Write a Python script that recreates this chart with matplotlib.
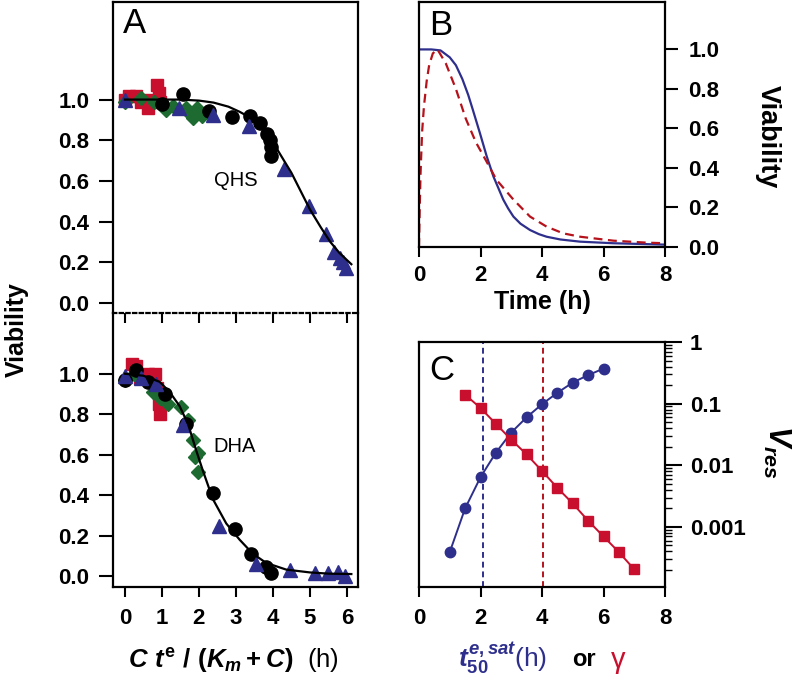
import numpy as np
import matplotlib
matplotlib.use("Agg")
import matplotlib.pyplot as plt
from matplotlib.ticker import LogLocator, NullFormatter

plt.rcParams['font.family'] = ['Liberation Sans', 'DejaVu Sans']
plt.rcParams['mathtext.fontset'] = 'custom'
plt.rcParams['mathtext.rm'] = 'Liberation Sans:bold'
plt.rcParams['mathtext.it'] = 'Liberation Sans:italic:bold'
plt.rcParams['mathtext.bf'] = 'Liberation Sans:bold'

BLUE = '#2e2f8c'
RED = '#c8102e'
GREEN = '#1d6b31'
DRED = '#b5121b'

# ---- panel A, QHS (top) ----
qhs_red_x = [0.0, 0.1, 0.3, 0.45, 0.6, 0.62, 0.88, 0.92, 0.95]
qhs_red_y = [1.0, 1.02, 1.02, 0.99, 1.0, 0.96, 1.07, 1.03, 0.99]
qhs_green_x = [0.0, 0.45, 0.8, 1.1, 1.3, 1.65, 1.75, 1.85, 1.95, 2.0, 2.08]
qhs_green_y = [0.99, 1.01, 0.99, 0.95, 0.97, 0.96, 0.93, 0.91, 0.96, 0.94, 0.92]
qhs_black_x = [1.0, 1.58, 2.27, 2.9, 3.38, 3.66, 3.85, 3.92, 3.96, 3.95]
qhs_black_y = [0.98, 1.025, 0.945, 0.915, 0.92, 0.885, 0.83, 0.80, 0.765, 0.72]
qhs_blue_x = [0.0, 1.47, 2.38, 3.35, 4.3, 4.98, 5.43, 5.65, 5.81, 5.9, 5.97]
qhs_blue_y = [1.0, 0.96, 0.925, 0.87, 0.66, 0.475, 0.34, 0.25, 0.22, 0.2, 0.17]
qhs_fit_x = [0, 0.5, 1.0, 1.5, 2.0, 2.4, 2.8, 3.1, 3.4, 3.6, 3.9, 4.2, 4.5, 4.75,
             5.0, 5.3, 5.55, 5.8, 6.12]
qhs_fit_y = [1.0, 1.0, 1.0, 1.0, 0.995, 0.985, 0.965, 0.94, 0.91, 0.885, 0.82,
             0.73, 0.64, 0.55, 0.46, 0.37, 0.30, 0.245, 0.19]

# ---- panel A, DHA (bottom) ----
dha_red_x = [0.18, 0.3, 0.4, 0.63, 0.82, 0.88, 0.93, 0.95]
dha_red_y = [1.05, 1.04, 0.98, 1.0, 1.0, 0.93, 0.85, 0.80]
dha_green_x = [0.0, 0.25, 0.76, 0.94, 1.17, 1.53, 1.71, 1.84, 1.89, 1.98, 1.98]
dha_green_y = [0.97, 1.0, 0.91, 0.88, 0.85, 0.835, 0.77, 0.67, 0.59, 0.61, 0.515]
dha_black_x = [0.0, 0.3, 0.63, 1.08, 1.66, 2.38, 2.99, 3.42, 3.82, 3.96]
dha_black_y = [0.97, 1.02, 0.96, 0.9, 0.75, 0.41, 0.235, 0.11, 0.046, 0.013]
dha_blue_x = [0.0, 0.45, 0.85, 1.57, 2.54, 3.55, 4.45, 5.13, 5.49, 5.76, 5.94]
dha_blue_y = [0.99, 0.98, 0.95, 0.745, 0.245, 0.06, 0.03, 0.015, 0.016, 0.02, 0.0]
dha_fit_x = [0, 0.5, 0.94, 1.21, 1.48, 1.71, 1.93, 2.11, 2.38, 2.74, 3.1, 3.46,
             3.82, 4.36, 5.0, 5.5, 6.12]
dha_fit_y = [1.0, 0.99, 0.96, 0.91, 0.84, 0.75, 0.62, 0.52, 0.38, 0.26, 0.18,
             0.11, 0.065, 0.032, 0.018, 0.012, 0.01]

# ---- panel B ----
b_blue_t = [0, 0.4, 0.7, 1.0, 1.2, 1.41, 1.6, 1.74, 1.98, 2.2, 2.42, 2.74, 2.9,
            3.07, 3.3, 3.61, 3.9, 4.15, 4.6, 5.24, 6.32, 8.0]
b_blue_v = [1.0, 1.0, 0.995, 0.96, 0.92, 0.85, 0.77, 0.70, 0.577, 0.46, 0.357,
            0.24, 0.195, 0.154, 0.118, 0.086, 0.065, 0.052, 0.038, 0.027, 0.019,
            0.012]
b_red_t = [0, 0.02, 0.05, 0.1, 0.16, 0.25, 0.33, 0.45, 0.6, 0.87, 1.2, 1.52,
           1.85, 2.17, 2.52, 3.07, 3.61, 4.15, 4.69, 5.24, 6.32, 7.4, 8.0]
b_red_v = [0, 0.17, 0.37, 0.58, 0.71, 0.84, 0.92, 0.98, 1.0, 0.93, 0.80, 0.65,
           0.53, 0.44, 0.34, 0.24, 0.154, 0.103, 0.069, 0.052, 0.032, 0.022, 0.019]

# ---- panel C ----
c_t50 = [1.0, 1.5, 2.0, 2.5, 3.0, 3.5, 4.0, 4.5, 5.0, 5.5, 6.0]
c_vres_t50 = [3.9e-4, 2.0e-3, 6.4e-3, 0.016, 0.034, 0.06, 0.098, 0.15, 0.22, 0.29, 0.37]
c_gamma = [1.5, 2.0, 2.5, 3.0, 3.5, 4.0, 4.5, 5.0, 5.5, 6.0, 6.5, 7.0]
c_vres_gamma = [0.14, 0.085, 0.047, 0.026, 0.015, 0.0081, 0.0043, 0.0024,
                0.00126, 0.0007, 0.00039, 0.000205]
c_vlines = [2.07, 4.03]

TICK_FS = 16

fig = plt.figure(figsize=(7.93, 6.86), dpi=100)
W, H = 793.0, 686.0


def box(l, t, r, b):
    return [l / W, (H - b) / H, (r - l) / W, (b - t) / H]


axA1 = fig.add_axes(box(113, 2, 358, 313))
axA2 = fig.add_axes(box(113, 313, 358, 587))
axB = fig.add_axes(box(419, 2, 665, 247))
axC = fig.add_axes(box(419, 342, 665, 587))

for ax in (axA1, axA2, axB, axC):
    for s in ax.spines.values():
        s.set_linewidth(1.6)


def scatter_set(ax, data):
    for x, y, m, c, s in data:
        ax.plot(x, y, ls='none', marker=m, color=c, mec=c, ms=s, zorder=3)


scatter_set(axA1, [
    (qhs_red_x, qhs_red_y, 's', RED, 8.5),
    (qhs_green_x, qhs_green_y, 'D', GREEN, 7.5),
    (qhs_black_x, qhs_black_y, 'o', 'black', 9.5),
    (qhs_blue_x, qhs_blue_y, '^', BLUE, 9.5),
])
axA1.plot(qhs_fit_x, qhs_fit_y, color='black', lw=1.6, zorder=4)

scatter_set(axA2, [
    (dha_red_x, dha_red_y, 's', RED, 8.5),
    (dha_green_x, dha_green_y, 'D', GREEN, 7.5),
    (dha_black_x, dha_black_y, 'o', 'black', 9.5),
    (dha_blue_x, dha_blue_y, '^', BLUE, 9.5),
])
axA2.plot(dha_fit_x, dha_fit_y, color='black', lw=1.6, zorder=4)

yt = [0.0, 0.2, 0.4, 0.6, 0.8, 1.0]
for ax, lo, hi in ((axA1, -0.05, 1.48), (axA2, -0.054, 1.30)):
    ax.set_xlim(-0.32, 6.3)
    ax.set_ylim(lo, hi)
    ax.set_yticks(yt)
    ax.set_yticklabels(['%.1f' % v for v in yt], fontsize=TICK_FS,
                       fontweight='bold')
    ax.tick_params(axis='y', direction='out', length=10, width=1.5, pad=7)
    ax.set_xticks(range(7))

axA1.spines['bottom'].set_visible(False)
axA1.tick_params(axis='x', bottom=False, labelbottom=False)
axA2.spines['top'].set_linestyle((0, (1.5, 1.5)))
axA2.set_xticklabels([str(i) for i in range(7)], fontsize=TICK_FS,
                     fontweight='bold')
axA2.tick_params(axis='x', direction='out', length=7, width=1.5, pad=8)
sec = axA2.secondary_xaxis('top')
sec.set_xticks(range(7))
sec.tick_params(direction='in', length=7, width=1.5, labeltop=False)
sec.spines['top'].set_visible(False)

axA1.text(3.0, 0.6, 'QHS', fontsize=14.5, ha='center', va='center')
axA2.text(2.97, 0.64, 'DHA', fontsize=14.5, ha='center', va='center')
axA1.text(0.04, 0.985, 'A', transform=axA1.transAxes, fontsize=25,
          ha='left', va='top')

# ---- B ----
axB.plot(b_blue_t, b_blue_v, color=BLUE, lw=1.6)
axB.plot(b_red_t, b_red_v, color=DRED, lw=1.6, ls=(0, (4, 2.5)))
axB.set_xlim(0, 8)
axB.set_ylim(0, 1.24)
axB.set_xticks([0, 2, 4, 6, 8])
axB.set_yticks(yt)
axB.set_yticklabels(['%.1f' % v for v in yt], fontsize=TICK_FS,
                    fontweight='bold')
axB.set_xticklabels(['0', '2', '4', '6', '8'], fontsize=TICK_FS,
                    fontweight='bold')
axB.yaxis.tick_right()
axB.tick_params(axis='y', direction='out', length=9, width=1.5, pad=8)
axB.tick_params(axis='x', direction='out', length=7, width=1.5, pad=6)
axB.set_xlabel('Time (h)', fontsize=18, fontweight='bold', labelpad=3)
axB.text(0.04, 0.97, 'B', transform=axB.transAxes, fontsize=25,
         ha='left', va='top')
fig.text(768 / W, 1 - 137 / H, 'Viability', rotation=270, fontsize=19.5,
         fontweight='bold', ha='center', va='center')

# ---- C ----
for xv, c in zip(c_vlines, [BLUE, DRED]):
    axC.axvline(xv, color=c, lw=1.4, ls=(0, (3, 2)), zorder=1)
axC.plot(c_t50, c_vres_t50, color=BLUE, lw=1.4, marker='o', ms=7.5, zorder=3)
axC.plot(c_gamma, c_vres_gamma, color=RED, lw=1.4, marker='s', ms=7, zorder=3)
axC.set_yscale('log')
axC.set_xlim(0, 8)
axC.set_ylim(1.06e-4, 1.0)
axC.yaxis.tick_right()
axC.set_yticks([1e-3, 1e-2, 1e-1, 1])
axC.set_yticklabels(['0.001', '0.01', '0.1', '1'], fontsize=TICK_FS,
                    fontweight='bold')
axC.yaxis.set_minor_locator(LogLocator(base=10, subs=np.arange(2, 10)))
axC.yaxis.set_minor_formatter(NullFormatter())
axC.tick_params(axis='y', which='major', direction='out', length=12,
                width=1.5, pad=6)
axC.tick_params(axis='y', which='minor', direction='out', length=5, width=1.0)
axC.set_xticks([0, 2, 4, 6, 8])
axC.set_xticklabels(['0', '2', '4', '6', '8'], fontsize=TICK_FS,
                    fontweight='bold')
axC.tick_params(axis='x', direction='out', length=7, width=1.5, pad=8)
axC.text(0.04, 0.95, 'C', transform=axC.transAxes, fontsize=25,
         ha='left', va='top')
fig.text(777 / W, 1 - 452 / H, r'$V_{res}$', rotation=270, fontsize=22,
         ha='center', va='center')

# ---- outer labels ----
fig.text(17 / W, 1 - 330 / H, 'Viability', rotation=90, fontsize=18,
         fontweight='bold', ha='center', va='center')
fig.text(233 / W, 1 - 660 / H, r'$C\ t^{\mathrm{e}}\ /\ (K_m+C)$  (h)',
         fontsize=18.5, ha='center', va='center')
fig.text(458 / W, 1 - 658 / H, r'$t^{e,sat}_{\mathit{50}}$(h)', fontsize=19,
         color=BLUE, ha='left', va='center')
fig.text(572 / W, 1 - 660 / H, 'or', fontsize=17, fontweight='bold',
         ha='left', va='center')
fig.text(611 / W, 1 - 660 / H, 'γ', fontsize=21, color=RED,
         ha='left', va='center')

fig.savefig('out.png', dpi=100)
